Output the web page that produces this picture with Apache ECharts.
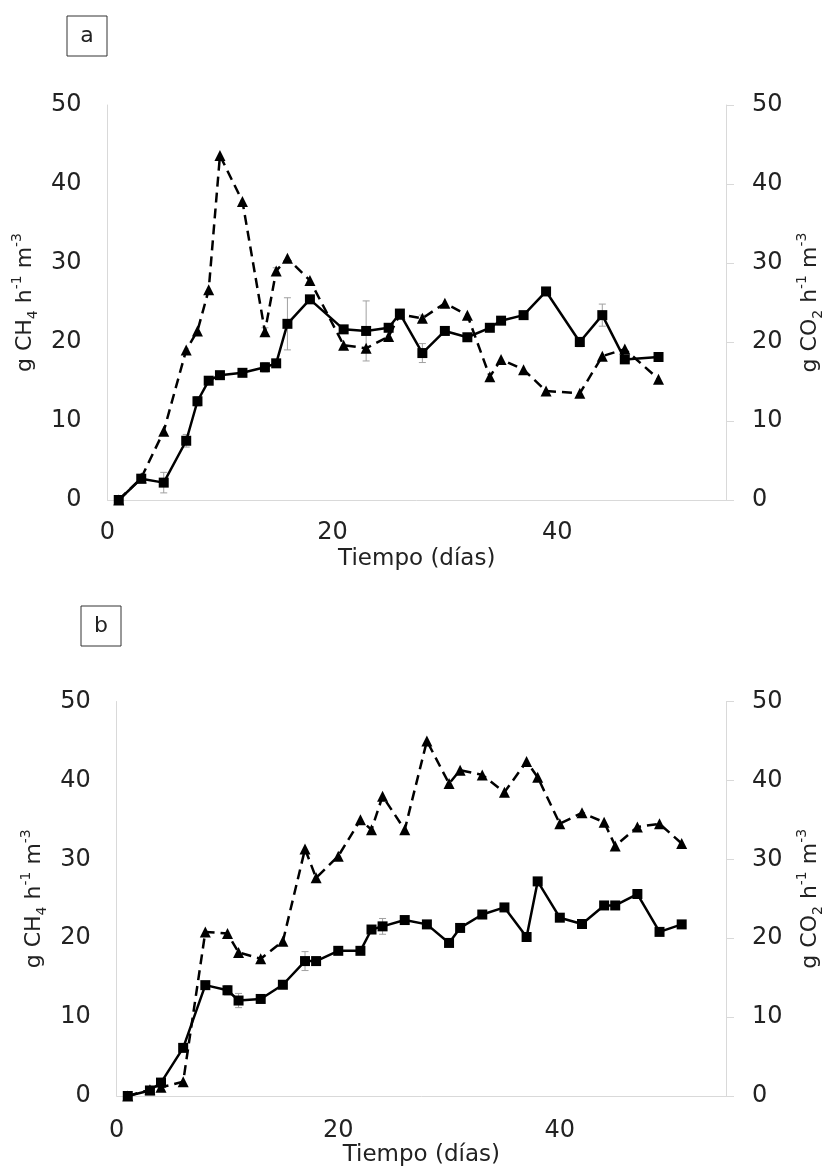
<!DOCTYPE html>
<html>
<head>
<meta charset="utf-8">
<script src="https://cdn.jsdelivr.net/npm/echarts@6/dist/echarts.min.js"></script>
<style>
  html, body { margin: 0; padding: 0; background: #fff; }
  #chart { width: 833px; height: 1168px; }
</style>
</head>
<body>
<div id="chart"></div>
<script>
// Panel a: sampling days, CH4 and CO2 production (g h-1 m-3) and their deviations
const daysA = [1, 3, 5, 7, 8, 9, 10, 12, 14, 15, 16, 18, 21, 23, 25, 26, 28, 30, 32, 34, 35, 37, 39, 42, 44, 46, 49];
const ch4A = [0, 2.7, 2.2, 7.5, 12.5, 15.1, 15.8, 16.1, 16.8, 17.3, 22.3, 25.4, 21.6, 21.4, 21.8, 23.6, 18.6, 21.4, 20.6, 21.8, 22.7, 23.4, 26.4, 20.0, 23.4, 17.8, 18.1];
const co2A = [0, 2.8, 8.7, 19.0, 21.4, 26.6, 43.6, 37.8, 21.3, 29.0, 30.6, 27.8, 19.6, 19.2, 20.7, 23.5, 23.0, 24.9, 23.4, 15.6, 17.8, 16.5, 13.8, 13.5, 18.2, 19.1, 15.3];
const errCh4A = [0, 0, 1.3, 0.8, 0.6, 0, 0, 0, 0.6, 0, 3.3, 0, 0, 3.8, 0, 0, 1.2, 0, 0, 0, 0, 0, 0, 0.6, 1.4, 0, 0];
const errCo2A = [0, 0, 0, 0, 0, 0, 0, 0, 0.5, 0.4, 0, 0, 0, 0, 0, 0, 0.4, 0, 0, 0, 0, 0, 0, 0, 0, 0, 0];

// Panel b
const daysB = [1, 3, 4, 6, 8, 10, 11, 13, 15, 17, 18, 20, 22, 23, 24, 26, 28, 30, 31, 33, 35, 37, 38, 40, 42, 44, 45, 47, 49, 51];
const ch4B = [0, 0.7, 1.7, 6.1, 14.05, 13.4, 12.1, 12.3, 14.1, 17.1, 17.1, 18.4, 18.4, 21.1, 21.5, 22.3, 21.75, 19.4, 21.3, 23.0, 23.9, 20.15, 27.2, 22.6, 21.8, 24.15, 24.15, 25.6, 20.8, 21.75];
const co2B = [0, 0.8, 1.1, 1.8, 20.8, 20.6, 18.2, 17.4, 19.6, 31.3, 27.65, 30.4, 35.0, 33.75, 38.0, 33.75, 45.0, 39.6, 41.3, 40.7, 38.5, 42.4, 40.4, 34.5, 35.9, 34.7, 31.7, 34.1, 34.5, 32.0];
const errCh4B = [0, 0, 0, 0, 0, 0.6, 0.9, 0.5, 0.4, 1.2, 0, 0, 0, 0.5, 1.0, 0, 0, 0, 0, 0, 0, 0, 0, 0, 0, 0, 0, 0, 0, 0];

// Axis settings
const xTicks = [0, 20, 40];
const xMin = 0, xMax = 55, xStep = 20;
const yMin = 0, yMax = 50, yStep = 10;
const panelLabels = ['a', 'b'];
const xTitle = 'Tiempo (días)';

const FONT = 'DejaVu Sans';
const TXT = '#222';
const AXIS = '#d9d9d9';

function pairs(xs, ys) { return xs.map((x, i) => [x, ys[i]]); }
function errPoints(xs, ys, es) {
  const out = [];
  xs.forEach((x, i) => { if (es[i] > 0) out.push([x, ys[i], es[i]]); });
  return out;
}

const richName = {
  t: { fontSize: 22, fontFamily: FONT, color: TXT, lineHeight: 30 },
  sub: { fontSize: 14, fontFamily: FONT, color: TXT, lineHeight: 14, verticalAlign: 'bottom' },
  sup: { fontSize: 14, fontFamily: FONT, color: TXT, lineHeight: 14, verticalAlign: 'top' }
};
const nameCH4 = '{t|g CH}{sub|4}{t| h}{sup|-1}{t| m}{sup|-3}';
const nameCO2 = '{t|g CO}{sub|2}{t| h}{sup|-1}{t| m}{sup|-3}';

function xAxisFor(gi, labelMargin) {
  return {
    gridIndex: gi, type: 'value', min: xMin, max: xMax, interval: xStep,
    axisLine: { show: true, lineStyle: { color: AXIS, width: 1 } },
    axisTick: { show: false }, splitLine: { show: false },
    axisLabel: {
      fontSize: 24, fontFamily: FONT, color: TXT, margin: labelMargin,
      formatter: v => (xTicks.indexOf(v) >= 0 ? String(v) : '')
    },
    name: xTitle, nameLocation: 'middle', nameGap: 48,
    nameTextStyle: { fontSize: 23, fontFamily: FONT, color: TXT }
  };
}
function yAxisFor(gi, pos, name, gap, ticks) {
  return {
    gridIndex: gi, type: 'value', position: pos, min: yMin, max: yMax, interval: yStep,
    axisLine: { show: true, lineStyle: { color: AXIS, width: 1 } },
    axisTick: { show: ticks, inside: false, length: 8, lineStyle: { color: AXIS } },
    splitLine: { show: false },
    axisLabel: { fontSize: 24, fontFamily: FONT, color: TXT, margin: 26 },
    name: name, nameLocation: 'middle', nameRotate: 90, nameGap: gap,
    nameTextStyle: { rich: richName }
  };
}

function errSeries(xi, yi, data) {
  return {
    type: 'custom', xAxisIndex: xi, yAxisIndex: yi, z: 1, silent: true,
    data: data,
    renderItem: function (params, api) {
      const x = api.value(0), y = api.value(1), e = api.value(2);
      const top = api.coord([x, y + e]);
      const bot = api.coord([x, y - e]);
      const w = 3.5;
      const st = { stroke: '#a0a0a0', lineWidth: 1 };
      return {
        type: 'group', children: [
          { type: 'line', shape: { x1: top[0], y1: top[1], x2: bot[0], y2: bot[1] }, style: st },
          { type: 'line', shape: { x1: top[0] - w, y1: top[1], x2: top[0] + w, y2: top[1] }, style: st },
          { type: 'line', shape: { x1: bot[0] - w, y1: bot[1], x2: bot[0] + w, y2: bot[1] }, style: st }
        ]
      };
    }
  };
}
function lineSeries(xi, yi, data, dashed) {
  return {
    type: 'line', xAxisIndex: xi, yAxisIndex: yi, data: data,
    z: dashed ? 2 : 3,
    symbol: dashed ? 'triangle' : 'rect',
    symbolSize: dashed ? 11 : 10,
    itemStyle: { color: '#000' },
    lineStyle: { color: '#000', width: 2.5, type: dashed ? [10, 6] : 'solid' }
  };
}

function panelBox(x, y, label) {
  return [
    { type: 'rect', shape: { x: x, y: y, width: 40, height: 40 },
      style: { fill: '#fff', stroke: '#333', lineWidth: 1 } },
    { type: 'text', x: x + 20, y: y + 20,
      style: { text: label, fontSize: 22, fontFamily: FONT, fill: TXT, align: 'center', verticalAlign: 'middle' } }
  ];
}

const chart = echarts.init(document.getElementById('chart'), null, { renderer: 'canvas' });
chart.setOption({
  animation: false,
  backgroundColor: '#fff',
  grid: [
    { left: 107.5, top: 105, width: 628.5, height: 395 },
    { left: 116.7, top: 701.5, width: 622.6, height: 395.8 }
  ],
  xAxis: [xAxisFor(0, 21), xAxisFor(1, 23)],
  yAxis: [
    yAxisFor(0, 'left', nameCH4, 56, false),
    yAxisFor(0, 'right', nameCO2, 69, true),
    yAxisFor(1, 'left', nameCH4, 65, false),
    yAxisFor(1, 'right', nameCO2, 69, true)
  ],
  graphic: [].concat(panelBox(67, 16, panelLabels[0]), panelBox(81, 606, panelLabels[1])),
  series: [
    errSeries(0, 0, errPoints(daysA, ch4A, errCh4A)),
    errSeries(0, 1, errPoints(daysA, co2A, errCo2A)),
    lineSeries(0, 1, pairs(daysA, co2A), true),
    lineSeries(0, 0, pairs(daysA, ch4A), false),
    errSeries(1, 2, errPoints(daysB, ch4B, errCh4B)),
    lineSeries(1, 3, pairs(daysB, co2B), true),
    lineSeries(1, 2, pairs(daysB, ch4B), false)
  ]
});
</script>
</body>
</html>
